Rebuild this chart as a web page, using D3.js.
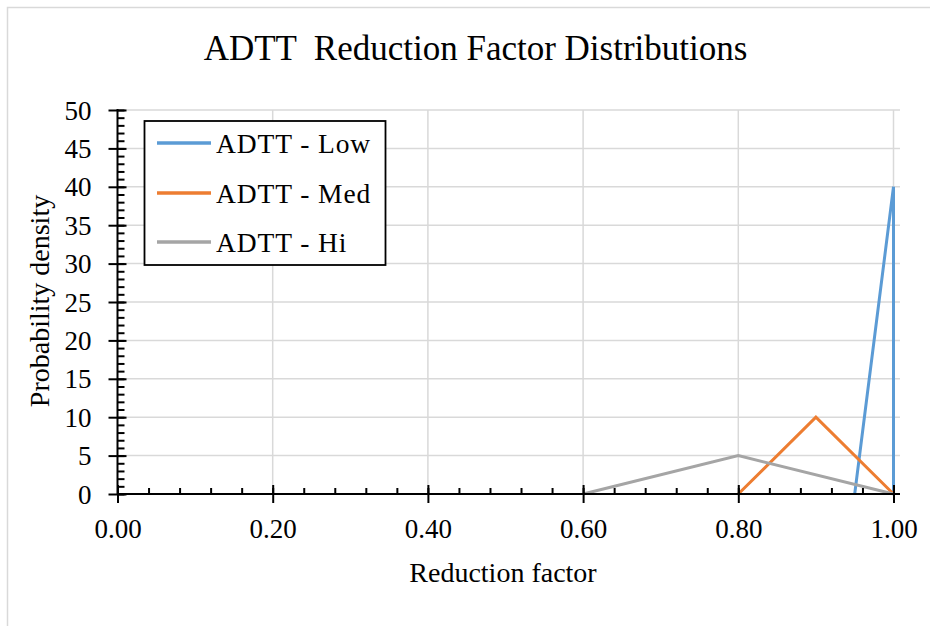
<!DOCTYPE html>
<html>
<head>
<meta charset="utf-8">
<script src="https://cdn.jsdelivr.net/npm/d3@7/dist/d3.min.js"></script>
<style>
  html, body { margin: 0; padding: 0; background: #fff; }
  svg { display: block; }
  text { font-family: "Liberation Serif", "Times New Roman", serif; fill: #000; }
</style>
</head>
<body>
<svg id="chart" width="930" height="626"></svg>
<script>
// ---- data ----
const seriesNames = ["ADTT - Low", "ADTT - Med", "ADTT - Hi"];
const lowX = [0.95, 1.00, 1.00];
const lowY = [0, 40, 0];
const medX = [0.80, 0.90, 1.00];
const medY = [0, 10, 0];
const hiX  = [0.60, 0.80, 1.00];
const hiY  = [0, 5, 0];
const xTicks = [0, 0.2, 0.4, 0.6, 0.8, 1.0];
const xMinorTicks = d3.range(0, 1.0001, 0.04);
const yTicks = [0, 5, 10, 15, 20, 25, 30, 35, 40, 45, 50];
const yMinorTicks = d3.range(0, 51, 1);
const colors = ["#5b9bd5", "#ed7d31", "#a5a5a5"];

const svg = d3.select("#chart");

// outer chart border
svg.append("rect").attr("x", 7.5).attr("y", 7.5).attr("width", 940).attr("height", 640)
  .attr("fill", "none").attr("stroke", "#d9d9d9").attr("stroke-width", 1.5);

const x = d3.scaleLinear().domain([0, 1]).range([117.5, 893.5]);
const y = d3.scaleLinear().domain([0, 50]).range([494, 110]);
const gridRight = 900;

// gridlines
const grid = svg.append("g").attr("stroke", "#d9d9d9").attr("stroke-width", 1.5);
grid.selectAll("line.h").data(yTicks.filter(d => d > 0)).join("line")
  .attr("x1", x(0)).attr("x2", gridRight).attr("y1", d => y(d)).attr("y2", d => y(d));
grid.selectAll("line.v").data(xTicks.filter(d => d > 0)).join("line")
  .attr("x1", d => x(d)).attr("x2", d => x(d)).attr("y1", y(50)).attr("y2", y(0));

// series
const series = [
  lowX.map((v, i) => [v, lowY[i]]),
  medX.map((v, i) => [v, medY[i]]),
  hiX.map((v, i) => [v, hiY[i]])
];
const line = d3.line().x(d => x(d[0])).y(d => y(d[1]));
svg.append("g").selectAll("path").data(series).join("path")
  .attr("d", line).attr("fill", "none")
  .attr("stroke", (d, i) => colors[i]).attr("stroke-width", 3)
  .attr("stroke-linejoin", "miter");

// x axis
const fmt = d3.format(".2f");
const xAxisG = svg.append("g").attr("transform", `translate(0,${y(0)})`);
xAxisG.call(d3.axisBottom(x).tickValues(xMinorTicks).tickSize(-6).tickFormat(""));
xAxisG.append("g").call(d3.axisBottom(x).tickValues(xTicks).tickSize(-9).tickFormat(""));
const xLab = xAxisG.append("g").call(d3.axisBottom(x).tickValues(xTicks).tickSize(9).tickFormat(fmt));
xLab.selectAll("text").attr("font-size", 27).attr("y", 44).attr("dy", 0)
  .style("font-family", '"Liberation Serif", serif');
xAxisG.selectAll(".domain").remove();
xAxisG.append("line").attr("x1", x(0)).attr("x2", gridRight).attr("y1", 0).attr("y2", 0);
xAxisG.selectAll("line").attr("stroke", "#000").attr("stroke-width", 2);

// y axis
const yAxisG = svg.append("g").attr("transform", `translate(${x(0)},0)`);
yAxisG.call(d3.axisLeft(y).tickValues(yMinorTicks).tickSize(-7).tickFormat(""));
yAxisG.append("g").call(d3.axisLeft(y).tickValues(yTicks).tickSize(9).tickFormat(""));
yAxisG.append("g").call(d3.axisLeft(y).tickValues(yTicks).tickSize(-9).tickFormat(""));
const yLab = yAxisG.append("g").call(d3.axisLeft(y).tickValues(yTicks).tickSize(0).tickPadding(26).tickFormat(d3.format("d")));
yLab.selectAll("text").attr("font-size", 27).attr("dy", "0.34em")
  .style("font-family", '"Liberation Serif", serif');
yAxisG.selectAll(".domain").remove();
yAxisG.append("line").attr("x1", 0).attr("x2", 0).attr("y1", y(50) - 1).attr("y2", y(0) + 1);
yAxisG.selectAll("line").attr("stroke", "#000").attr("stroke-width", 2);

// title
svg.append("text").attr("x", 475.5).attr("y", 60).attr("text-anchor", "middle")
  .attr("font-size", 35).text("ADTT  Reduction Factor Distributions").style("white-space", "pre");

// axis titles
svg.append("text").attr("x", 503).attr("y", 582).attr("text-anchor", "middle")
  .attr("font-size", 28).text("Reduction factor");
svg.append("text").attr("transform", "translate(49,301) rotate(-90)").attr("text-anchor", "middle")
  .attr("font-size", 28).text("Probability density");

// legend
const leg = svg.append("g");
leg.append("rect").attr("x", 144.5).attr("y", 121).attr("width", 241).attr("height", 144)
  .attr("fill", "#fff").attr("stroke", "#000").attr("stroke-width", 1.8);
const rowsY = [143, 193, 242];
const items = leg.selectAll("g.item").data(seriesNames).join("g")
  .attr("transform", (d, i) => `translate(0,${rowsY[i]})`);
items.append("line").attr("x1", 157).attr("x2", 211).attr("y1", 0).attr("y2", 0)
  .attr("stroke", (d, i) => colors[i]).attr("stroke-width", 3.5);
items.append("text").attr("x", 216).attr("y", 10).attr("font-size", 27.5)
  .attr("letter-spacing", "0.9px").text(d => d);
</script>
</body>
</html>
